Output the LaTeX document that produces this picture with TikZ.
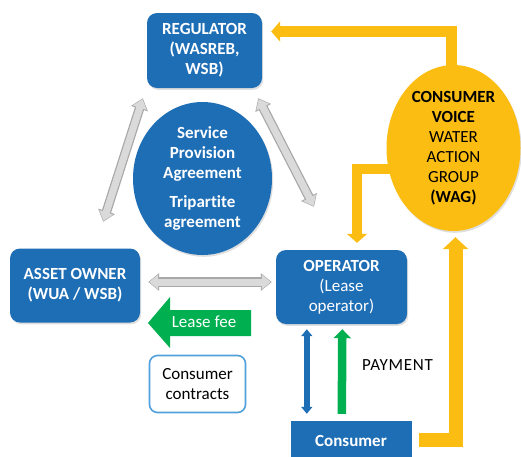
\documentclass[tikz,border=0pt]{standalone}
\usepackage{fontspec}
\setmainfont{Carlito}[Ligatures=NoCommon]
\usetikzlibrary{arrows.meta,calc,shapes.geometric,shadows}

\definecolor{boxblue}{RGB}{30,110,182}
\definecolor{wagyellow}{RGB}{252,189,18}
\definecolor{feegreen}{RGB}{0,176,80}
\definecolor{pairgray}{RGB}{218,218,218}
\definecolor{pairedge}{RGB}{168,168,168}
\definecolor{contractedge}{RGB}{80,160,220}

\tikzset{
  x=1pt, y=-1pt,
  lbl/.style={font=\fontsize{17}{20}\selectfont, align=center, inner sep=0pt},
  softshadow/.style={drop shadow={opacity=0.25, shadow xshift=1.2pt, shadow yshift=-1.8pt}},
  bluebox/.style={lbl, rectangle, rounded corners=10pt, fill=boxblue, text=white,
    font=\fontsize{17}{20}\selectfont\bfseries, softshadow},
  blueoval/.style={lbl, ellipse, fill=boxblue, text=white,
    font=\fontsize{17}{20}\selectfont\bfseries, softshadow},
  voiceoval/.style={lbl, ellipse, fill=wagyellow, text=black, softshadow},
  contractbox/.style={lbl, rectangle, rounded corners=8pt, fill=white,
    draw=contractedge, line width=1.6pt},
  flatbox/.style={lbl, rectangle, fill=boxblue, text=white,
    font=\fontsize{17}{20}\selectfont\bfseries},
  voicearrow/.style={draw=wagyellow, line width=10.5pt, line join=miter,
    -{Triangle[length=9pt,width=20pt]}},
  payline/.style={draw=feegreen, line width=8.5pt,
    -{Triangle[length=9pt,width=17pt]}},
  serviceline/.style={draw=boxblue, line width=5.5pt,
    {Triangle[length=7pt,width=11pt]}-{Triangle[length=7pt,width=11pt]}},
  pairout/.style={draw=pairedge, line width=9.5pt,
    {Triangle[length=11pt,width=17pt]}-{Triangle[length=11pt,width=17pt]}},
  pairin/.style={draw=pairgray, line width=7pt, shorten <=1pt, shorten >=1pt,
    {Triangle[length=9pt,width=14pt]}-{Triangle[length=9pt,width=14pt]}},
}

% light grey two-headed block arrow with a darker rim
\newcommand\blockpair[2]{%
  \draw[pairout] #1 -- #2;
  \draw[pairin] #1 -- #2;
}

\begin{document}
\begin{tikzpicture}
\useasboundingbox (0,0) rectangle (521,456);

% main actors
\node[bluebox, minimum width=115pt, minimum height=75pt] (reg) at (204.5,50.5)
  {REGULATOR\\(WASREB,\\WSB)};
\node[blueoval, minimum width=139pt, minimum height=153pt] (spa) at (202.5,178.5)
  {Service\\Provision\\Agreement\\[9pt]Tripartite\\agreement};
\node[bluebox, minimum width=130pt, minimum height=74pt] (owner) at (75,285.5)
  {ASSET OWNER\\(WUA / WSB)};
\node[bluebox, minimum width=131pt, minimum height=74pt] (op) at (341.5,287)
  {OPERATOR\\\mdseries(Lease\\\mdseries operator)};
\node[contractbox, minimum width=96pt, minimum height=57pt] (contracts) at (197.5,384)
  {Consumer\\contracts};
\node[flatbox, minimum width=121pt, minimum height=42pt] (cons) at (351,442)
  {\raisebox{3pt}{Consumer}};

% consumer voice links (drawn before the oval so their ends tuck under it)
\coordinate (wagtop) at (451.5,70);
\coordinate (wagleft) at (392.5,169);
\draw[voicearrow] (wagtop) |- ($(reg.east)+(9,-19)$);
\draw[voicearrow] (wagleft) -| ($(op.north)+(15.5,-7)$);
\node[voiceoval, minimum width=134pt, minimum height=166pt] (wag) at (453.5,148)
  {\bfseries CONSUMER\\\bfseries VOICE\\WATER\\ACTION\\GROUP\\\bfseries (WAG)};
\draw[voicearrow, line width=14pt, -{Triangle[length=12pt,width=25pt]}]
  ($(cons.east)+(7,-2)$) -| ($(wag.south)+(2,6)$);

% agreements between the three parties
\blockpair{($(reg.south west)+(-4,10)$)}{($(owner.north east)+(-37,-26.5)$)}
\blockpair{($(reg.south east)+(-4,10)$)}{($(op.north)+(-27.5,-43)$)}
\blockpair{($(owner.east)+(8,-3.5)$)}{($(op.west)+(-4,-5)$)}

% lease fee block arrow
\fill[feegreen] (148,323) -- (170,297) -- (170,310) -- (251,310) -- (251,336)
  -- (170,336) -- (170,348) -- cycle;
\node[lbl, text=white] (fee) at (204,322) {Lease fee};

% service and payment between operator and consumer
\draw[serviceline] ($(op.south west)+(31,5)$) -- ($(cons.north west)+(16.5,-7)$);
\draw[payline] ($(cons.north west)+(51.5,-7)$) -- ($(op.south west)+(66.5,5)$);
\node[lbl] (pay) at (397.5,365) {\addfontfeature{LetterSpace=4}PAYMENT};

\end{tikzpicture}
\end{document}
